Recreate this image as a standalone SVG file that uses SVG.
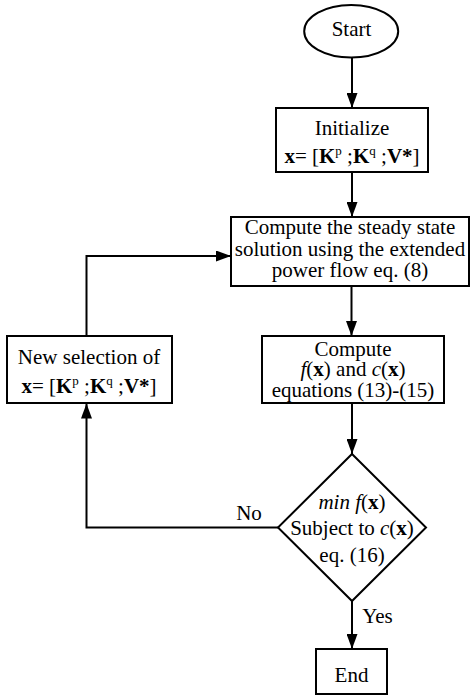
<svg xmlns="http://www.w3.org/2000/svg" width="470" height="698" viewBox="0 0 470 698">
<style>
.t{font-family:"Liberation Serif","Times New Roman",serif;font-size:21px;fill:#000;text-anchor:middle}
.b{font-weight:bold}
.i{font-style:italic}
.sup{font-size:13px}
.shape{fill:#fff;stroke:#000;stroke-width:2}
.conn{fill:none;stroke:#000;stroke-width:2}
</style>
<defs>
<marker id="arr" markerUnits="userSpaceOnUse" markerWidth="15" markerHeight="11" refX="15" refY="5.5" orient="auto">
<path d="M0,0 L15,5.5 L0,11 z" fill="#000"/>
</marker>
</defs>
<rect width="470" height="698" fill="#fff"/>
<g id="connectors">
<line class="conn" x1="352" y1="58" x2="352" y2="108" marker-end="url(#arr)"/>
<line class="conn" x1="352" y1="172" x2="352" y2="217" marker-end="url(#arr)"/>
<line class="conn" x1="351.5" y1="286" x2="351.5" y2="336" marker-end="url(#arr)"/>
<line class="conn" x1="352" y1="403" x2="352" y2="454" marker-end="url(#arr)"/>
<line class="conn" x1="352" y1="601" x2="352" y2="649" marker-end="url(#arr)"/>
<polyline class="conn" points="278,527.5 86.5,527.5 86.5,403.5" marker-end="url(#arr)"/>
<polyline class="conn" points="86.5,336 86.5,256 231,256" marker-end="url(#arr)"/>
<text class="t" x="249" y="520">No</text>
<text class="t" x="377.5" y="623">Yes</text>
</g>
<g id="start">
<ellipse class="shape" cx="351.2" cy="31.3" rx="47" ry="26.3"/>
<text class="t" x="351.5" y="36">Start</text>
</g>
<g id="initialize">
<rect class="shape" x="276" y="108" width="152" height="64"/>
<text class="t" x="352" y="135">Initialize</text>
<text class="t" x="352" y="162.5"><tspan class="b">x</tspan>= [<tspan class="b">K</tspan><tspan class="sup" dy="-8">p</tspan><tspan dy="8"> ;</tspan><tspan class="b">K</tspan><tspan class="sup" dy="-8">q</tspan><tspan dy="8"> ;</tspan><tspan class="b">V*</tspan>]</text>
</g>
<g id="powerflow">
<rect class="shape" x="231" y="217" width="238" height="69"/>
<text class="t" x="350" y="234">Compute the steady state</text>
<text class="t" x="350" y="255.5">solution using the extended</text>
<text class="t" x="350" y="277">power flow eq. (8)</text>
</g>
<g id="newselection">
<rect class="shape" x="7" y="336" width="165" height="67"/>
<text class="t" x="89" y="364">New selection of</text>
<text class="t" x="89" y="393"><tspan class="b">x</tspan>= [<tspan class="b">K</tspan><tspan class="sup" dy="-8">p</tspan><tspan dy="8"> ;</tspan><tspan class="b">K</tspan><tspan class="sup" dy="-8">q</tspan><tspan dy="8"> ;</tspan><tspan class="b">V*</tspan>]</text>
</g>
<g id="computef">
<rect class="shape" x="262" y="336" width="182" height="67"/>
<text class="t" x="353" y="355.5">Compute</text>
<text class="t" x="353" y="375.5"><tspan class="i">f</tspan>(<tspan class="b">x</tspan>) and <tspan class="i">c</tspan>(<tspan class="b">x</tspan>)</text>
<text class="t" x="353" y="397">equations (13)-(15)</text>
</g>
<g id="decision">
<polygon class="shape" points="352,454 426,527.5 352,601 278,527.5"/>
<text class="t" x="352" y="509"><tspan class="i">min f</tspan>(<tspan class="b">x</tspan>)</text>
<text class="t" x="352" y="535">Subject to <tspan class="i">c</tspan>(<tspan class="b">x</tspan>)</text>
<text class="t" x="352" y="561.5">eq. (16)</text>
</g>
<g id="end">
<rect class="shape" x="316" y="649" width="71" height="45"/>
<text class="t" x="351.5" y="681.5">End</text>
</g>
</svg>
